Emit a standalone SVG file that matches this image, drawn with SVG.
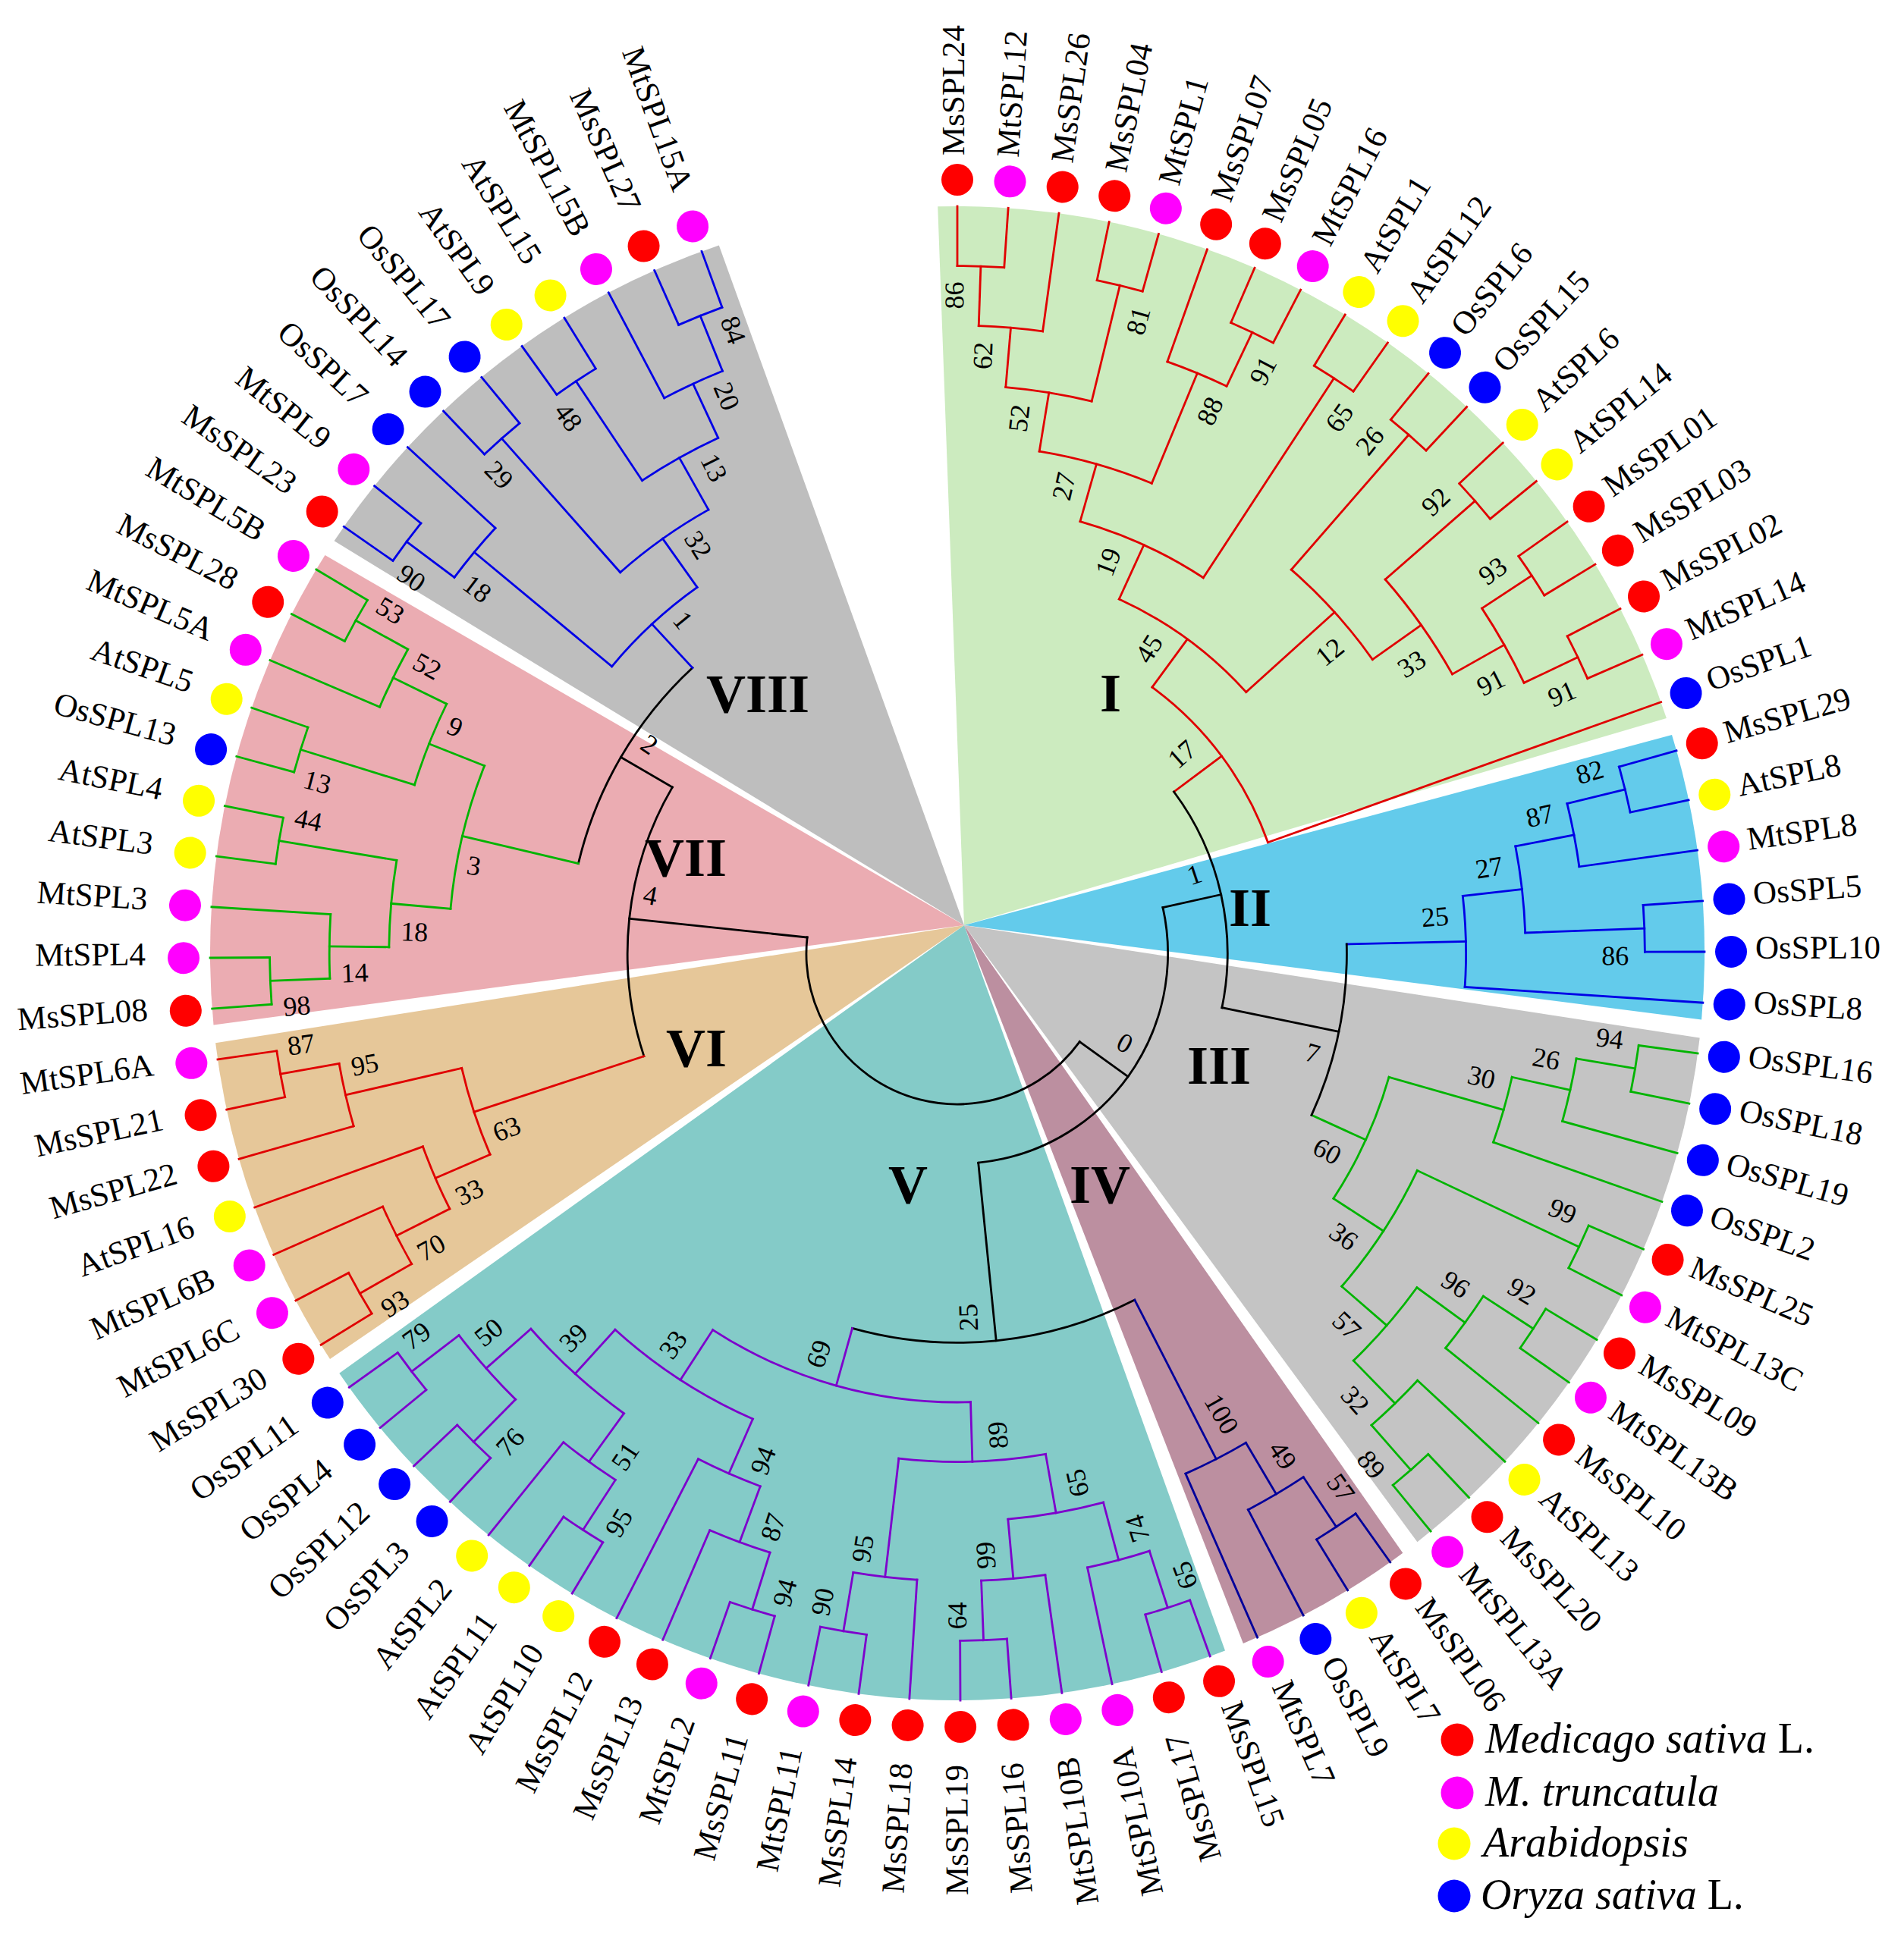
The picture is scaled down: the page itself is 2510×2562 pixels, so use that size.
<svg xmlns="http://www.w3.org/2000/svg" width="2510" height="2562" viewBox="0 0 2510 2562">
<style>
text{font-family:"Liberation Serif","Times New Roman",serif;fill:#000}
.lf text{font-size:43px}
.lf .e{text-anchor:end}
.ms{fill:#ff0000}.mt{fill:#ff00ff}.at{fill:#ffff00}.os{fill:#0000ff}
#connectors line,#connectors circle{fill:none;stroke-width:2.8;stroke-linecap:square}
.k line,.k circle{stroke:#000}
.r line,.r circle{stroke:#e00000}
.b line,.b circle{stroke:#0000e6}
.g line,.g circle{stroke:#00b400}
.n line,.n circle{stroke:#00009a}
.p line,.p circle{stroke:#7d00cc}
#bootstrap text{font-size:36px;text-anchor:middle}
.cl{font-size:72px;font-weight:bold;text-anchor:middle}
.lg{font-size:56px}
</style>
<rect width="2510" height="2562" fill="#fff"/>
<g id="wedges">
<path id="wedge-I" d="M1271,1220 L1236.2,272.3 A985,985 0 0 1 2196.9,946.9 Z" fill="#ccebbf"/>
<path id="wedge-II" d="M1271,1220 L2204.0,969.0 A985,985 0 0 1 2243.1,1344.6 Z" fill="#63cbeb"/>
<path id="wedge-III" d="M1271,1220 L2240.7,1368.5 A985,985 0 0 1 1868.4,2033.2 Z" fill="#c4c4c4"/>
<path id="wedge-IV" d="M1271,1220 L1849.3,2047.8 A985,985 0 0 1 1638.9,2167.0 Z" fill="#bc8fa0"/>
<path id="wedge-V" d="M1271,1220 L1615.0,2176.6 A985,985 0 0 1 447.3,1810.7 Z" fill="#84cbc8"/>
<path id="wedge-VI" d="M1271,1220 L435.0,1792.0 A985,985 0 0 1 284.1,1375.3 Z" fill="#e6c799"/>
<path id="wedge-VII" d="M1271,1220 L281.5,1351.4 A985,985 0 0 1 428.5,732.1 Z" fill="#ebacb2"/>
<path id="wedge-VIII" d="M1271,1220 L440.6,713.3 A985,985 0 0 1 947.8,323.4 Z" fill="#bebebe"/>
</g>
<g id="connectors" transform="translate(1262 1257)">
<g class="r">
<circle r="906.4" stroke-dasharray="61.82 9999" transform="rotate(-90)"/>
<line x1="906.4" x2="985" transform="rotate(-90)"/><line x1="906.4" x2="985" transform="rotate(-86.092)"/>
<circle r="827.8" stroke-dasharray="84.69 9999" transform="rotate(-88.046)"/>
<line x1="827.8" x2="906.4" transform="rotate(-88.046)"/><line x1="827.8" x2="985" transform="rotate(-82.184)"/>
<circle r="906.4" stroke-dasharray="61.82 9999" transform="rotate(-78.276)"/>
<line x1="906.4" x2="985" transform="rotate(-78.276)"/><line x1="906.4" x2="985" transform="rotate(-74.368)"/>
<circle r="749.2" stroke-dasharray="114.98 9999" transform="rotate(-85.115)"/>
<line x1="749.2" x2="827.8" transform="rotate(-85.115)"/><line x1="749.2" x2="906.4" transform="rotate(-76.322)"/>
<circle r="906.4" stroke-dasharray="61.82 9999" transform="rotate(-66.552)"/>
<line x1="906.4" x2="985" transform="rotate(-66.552)"/><line x1="906.4" x2="985" transform="rotate(-62.644)"/>
<circle r="827.8" stroke-dasharray="84.69 9999" transform="rotate(-70.46)"/>
<line x1="827.8" x2="985" transform="rotate(-70.46)"/><line x1="827.8" x2="906.4" transform="rotate(-64.598)"/>
<circle r="670.6" stroke-dasharray="154.37 9999" transform="rotate(-80.719)"/>
<line x1="670.6" x2="749.2" transform="rotate(-80.719)"/><line x1="670.6" x2="827.8" transform="rotate(-67.529)"/>
<circle r="906.4" stroke-dasharray="61.82 9999" transform="rotate(-58.736)"/>
<line x1="906.4" x2="985" transform="rotate(-58.736)"/><line x1="906.4" x2="985" transform="rotate(-54.828)"/>
<circle r="592" stroke-dasharray="179.18 9999" transform="rotate(-74.124)"/>
<line x1="592" x2="670.6" transform="rotate(-74.124)"/><line x1="592" x2="906.4" transform="rotate(-56.782)"/>
<circle r="906.4" stroke-dasharray="61.82 9999" transform="rotate(-50.92)"/>
<line x1="906.4" x2="985" transform="rotate(-50.92)"/><line x1="906.4" x2="985" transform="rotate(-47.012)"/>
<circle r="906.4" stroke-dasharray="61.82 9999" transform="rotate(-43.104)"/>
<line x1="906.4" x2="985" transform="rotate(-43.104)"/><line x1="906.4" x2="985" transform="rotate(-39.196)"/>
<circle r="906.4" stroke-dasharray="61.82 9999" transform="rotate(-35.288)"/>
<line x1="906.4" x2="985" transform="rotate(-35.288)"/><line x1="906.4" x2="985" transform="rotate(-31.38)"/>
<circle r="906.4" stroke-dasharray="61.82 9999" transform="rotate(-27.472)"/>
<line x1="906.4" x2="985" transform="rotate(-27.472)"/><line x1="906.4" x2="985" transform="rotate(-23.564)"/>
<circle r="827.8" stroke-dasharray="112.93 9999" transform="rotate(-33.334)"/>
<line x1="827.8" x2="906.4" transform="rotate(-33.334)"/><line x1="827.8" x2="906.4" transform="rotate(-25.518)"/>
<circle r="749.2" stroke-dasharray="153.30 9999" transform="rotate(-41.15)"/>
<line x1="749.2" x2="906.4" transform="rotate(-41.15)"/><line x1="749.2" x2="827.8" transform="rotate(-29.426)"/>
<circle r="670.6" stroke-dasharray="160.09 9999" transform="rotate(-48.966)"/>
<line x1="670.6" x2="906.4" transform="rotate(-48.966)"/><line x1="670.6" x2="749.2" transform="rotate(-35.288)"/>
<circle r="513.4" stroke-dasharray="209.01 9999" transform="rotate(-65.453)"/>
<line x1="513.4" x2="592" transform="rotate(-65.453)"/><line x1="513.4" x2="670.6" transform="rotate(-42.127)"/>
<circle r="434.8" stroke-dasharray="259.04 9999" transform="rotate(-53.79)"/>
<line x1="434.8" x2="513.4" transform="rotate(-53.79)"/><line x1="434.8" x2="985" transform="rotate(-19.656)"/>
<line x1="356.2" x2="434.8" transform="rotate(-36.723)"/>
</g>
<g class="b">
<circle r="906.4" stroke-dasharray="61.82 9999" transform="rotate(-15.748)"/>
<line x1="906.4" x2="985" transform="rotate(-15.748)"/><line x1="906.4" x2="985" transform="rotate(-11.84)"/>
<circle r="827.8" stroke-dasharray="84.69 9999" transform="rotate(-13.794)"/>
<line x1="827.8" x2="906.4" transform="rotate(-13.794)"/><line x1="827.8" x2="985" transform="rotate(-7.932)"/>
<circle r="906.4" stroke-dasharray="61.82 9999" transform="rotate(-4.024)"/>
<line x1="906.4" x2="985" transform="rotate(-4.024)"/><line x1="906.4" x2="985" transform="rotate(-0.116)"/>
<circle r="749.2" stroke-dasharray="114.98 9999" transform="rotate(-10.863)"/>
<line x1="749.2" x2="827.8" transform="rotate(-10.863)"/><line x1="749.2" x2="906.4" transform="rotate(-2.07)"/>
<circle r="670.6" stroke-dasharray="120.07 9999" transform="rotate(-6.467)"/>
<line x1="670.6" x2="749.2" transform="rotate(-6.467)"/><line x1="670.6" x2="985" transform="rotate(3.792)"/>
<line x1="513.4" x2="670.6" transform="rotate(-1.337)"/>
</g>
<g class="g">
<circle r="906.4" stroke-dasharray="61.82 9999" transform="rotate(7.7)"/>
<line x1="906.4" x2="985" transform="rotate(7.7)"/><line x1="906.4" x2="985" transform="rotate(11.608)"/>
<circle r="827.8" stroke-dasharray="84.69 9999" transform="rotate(9.654)"/>
<line x1="827.8" x2="906.4" transform="rotate(9.654)"/><line x1="827.8" x2="985" transform="rotate(15.516)"/>
<circle r="749.2" stroke-dasharray="89.43 9999" transform="rotate(12.585)"/>
<line x1="749.2" x2="827.8" transform="rotate(12.585)"/><line x1="749.2" x2="985" transform="rotate(19.424)"/>
<circle r="906.4" stroke-dasharray="61.82 9999" transform="rotate(23.332)"/>
<line x1="906.4" x2="985" transform="rotate(23.332)"/><line x1="906.4" x2="985" transform="rotate(27.24)"/>
<circle r="906.4" stroke-dasharray="61.82 9999" transform="rotate(31.148)"/>
<line x1="906.4" x2="985" transform="rotate(31.148)"/><line x1="906.4" x2="985" transform="rotate(35.056)"/>
<circle r="827.8" stroke-dasharray="84.69 9999" transform="rotate(33.102)"/>
<line x1="827.8" x2="906.4" transform="rotate(33.102)"/><line x1="827.8" x2="985" transform="rotate(38.964)"/>
<circle r="906.4" stroke-dasharray="61.82 9999" transform="rotate(46.78)"/>
<line x1="906.4" x2="985" transform="rotate(46.78)"/><line x1="906.4" x2="985" transform="rotate(50.688)"/>
<circle r="827.8" stroke-dasharray="84.69 9999" transform="rotate(42.872)"/>
<line x1="827.8" x2="985" transform="rotate(42.872)"/><line x1="827.8" x2="906.4" transform="rotate(48.734)"/>
<circle r="749.2" stroke-dasharray="127.75 9999" transform="rotate(36.033)"/>
<line x1="749.2" x2="827.8" transform="rotate(36.033)"/><line x1="749.2" x2="827.8" transform="rotate(45.803)"/>
<circle r="670.6" stroke-dasharray="182.96 9999" transform="rotate(25.286)"/>
<line x1="670.6" x2="906.4" transform="rotate(25.286)"/><line x1="670.6" x2="749.2" transform="rotate(40.918)"/>
<circle r="592" stroke-dasharray="176.66 9999" transform="rotate(16.005)"/>
<line x1="592" x2="749.2" transform="rotate(16.005)"/><line x1="592" x2="670.6" transform="rotate(33.102)"/>
<line x1="513.4" x2="592" transform="rotate(24.553)"/>
</g>
<g class="k">
<circle r="513.4" stroke-dasharray="231.99 9999" transform="rotate(-1.337)"/>
<line x1="356.2" x2="513.4" transform="rotate(11.608)"/>
<circle r="356.2" stroke-dasharray="300.48 9999" transform="rotate(-36.723)"/>
<line x1="277.6" x2="356.2" transform="rotate(-12.558)"/>
<circle r="277.6" stroke-dasharray="469.16 9999" transform="rotate(-12.558)"/>
<line x1="277.6" x2="513.4" transform="rotate(84.273)"/>
<circle r="513.4" stroke-dasharray="383.01 9999" transform="rotate(62.901)"/>
<line x1="199" x2="277.6" transform="rotate(35.857)"/>
<circle r="199" stroke-dasharray="521.58 9999" transform="rotate(35.857)"/>
<line x1="199" x2="434.8" transform="rotate(186.034)"/>
<circle r="434.8" stroke-dasharray="367.47 9999" transform="rotate(161.822)"/>
<line x1="434.8" x2="513.4" transform="rotate(210.244)"/>
<circle r="513.4" stroke-dasharray="303.13 9999" transform="rotate(193.33)"/>
</g>
<g class="n">
<line x1="513.4" x2="749.2" transform="rotate(62.901)"/>
<circle r="749.2" stroke-dasharray="89.43 9999" transform="rotate(59.481)"/>
<line x1="749.2" x2="827.8" transform="rotate(59.481)"/><line x1="749.2" x2="985" transform="rotate(66.32)"/>
<circle r="827.8" stroke-dasharray="84.69 9999" transform="rotate(56.55)"/>
<line x1="827.8" x2="906.4" transform="rotate(56.55)"/><line x1="827.8" x2="985" transform="rotate(62.412)"/>
<circle r="906.4" stroke-dasharray="61.82 9999" transform="rotate(54.596)"/>
<line x1="906.4" x2="985" transform="rotate(54.596)"/><line x1="906.4" x2="985" transform="rotate(58.504)"/>
</g>
<g class="p">
<line x1="513.4" x2="592" transform="rotate(105.644)"/>
<circle r="592" stroke-dasharray="358.36 9999" transform="rotate(88.303)"/>
<line x1="592" x2="670.6" transform="rotate(88.303)"/><line x1="592" x2="670.6" transform="rotate(122.986)"/>
<circle r="670.6" stroke-dasharray="194.40 9999" transform="rotate(79.998)"/>
<line x1="670.6" x2="749.2" transform="rotate(79.998)"/><line x1="670.6" x2="827.8" transform="rotate(96.607)"/>
<circle r="749.2" stroke-dasharray="127.75 9999" transform="rotate(75.113)"/>
<line x1="749.2" x2="827.8" transform="rotate(75.113)"/><line x1="749.2" x2="827.8" transform="rotate(84.883)"/>
<circle r="827.8" stroke-dasharray="84.69 9999" transform="rotate(72.182)"/>
<line x1="827.8" x2="906.4" transform="rotate(72.182)"/><line x1="827.8" x2="985" transform="rotate(78.044)"/>
<circle r="906.4" stroke-dasharray="61.82 9999" transform="rotate(70.228)"/>
<line x1="906.4" x2="985" transform="rotate(70.228)"/><line x1="906.4" x2="985" transform="rotate(74.136)"/>
<circle r="827.8" stroke-dasharray="84.69 9999" transform="rotate(81.952)"/>
<line x1="827.8" x2="985" transform="rotate(81.952)"/><line x1="827.8" x2="906.4" transform="rotate(87.814)"/>
<circle r="906.4" stroke-dasharray="61.82 9999" transform="rotate(85.86)"/>
<line x1="906.4" x2="985" transform="rotate(85.86)"/><line x1="906.4" x2="985" transform="rotate(89.768)"/>
<circle r="827.8" stroke-dasharray="84.69 9999" transform="rotate(93.676)"/>
<line x1="827.8" x2="985" transform="rotate(93.676)"/><line x1="827.8" x2="906.4" transform="rotate(99.538)"/>
<circle r="906.4" stroke-dasharray="61.82 9999" transform="rotate(97.584)"/>
<line x1="906.4" x2="985" transform="rotate(97.584)"/><line x1="906.4" x2="985" transform="rotate(101.492)"/>
<circle r="670.6" stroke-dasharray="217.27 9999" transform="rotate(113.705)"/>
<line x1="670.6" x2="749.2" transform="rotate(113.705)"/><line x1="670.6" x2="749.2" transform="rotate(132.268)"/>
<circle r="749.2" stroke-dasharray="89.43 9999" transform="rotate(110.285)"/>
<line x1="749.2" x2="827.8" transform="rotate(110.285)"/><line x1="749.2" x2="985" transform="rotate(117.124)"/>
<circle r="827.8" stroke-dasharray="84.69 9999" transform="rotate(107.354)"/>
<line x1="827.8" x2="906.4" transform="rotate(107.354)"/><line x1="827.8" x2="985" transform="rotate(113.216)"/>
<circle r="906.4" stroke-dasharray="61.82 9999" transform="rotate(105.4)"/>
<line x1="906.4" x2="985" transform="rotate(105.4)"/><line x1="906.4" x2="985" transform="rotate(109.308)"/>
<circle r="749.2" stroke-dasharray="166.08 9999" transform="rotate(125.917)"/>
<line x1="749.2" x2="827.8" transform="rotate(125.917)"/><line x1="749.2" x2="827.8" transform="rotate(138.618)"/>
<circle r="827.8" stroke-dasharray="84.69 9999" transform="rotate(122.986)"/>
<line x1="827.8" x2="906.4" transform="rotate(122.986)"/><line x1="827.8" x2="985" transform="rotate(128.848)"/>
<circle r="906.4" stroke-dasharray="61.82 9999" transform="rotate(121.032)"/>
<line x1="906.4" x2="985" transform="rotate(121.032)"/><line x1="906.4" x2="985" transform="rotate(124.94)"/>
<circle r="827.8" stroke-dasharray="112.93 9999" transform="rotate(134.71)"/>
<line x1="827.8" x2="906.4" transform="rotate(134.71)"/><line x1="827.8" x2="906.4" transform="rotate(142.526)"/>
<circle r="906.4" stroke-dasharray="61.82 9999" transform="rotate(132.756)"/>
<line x1="906.4" x2="985" transform="rotate(132.756)"/><line x1="906.4" x2="985" transform="rotate(136.664)"/>
<circle r="906.4" stroke-dasharray="61.82 9999" transform="rotate(140.572)"/>
<line x1="906.4" x2="985" transform="rotate(140.572)"/><line x1="906.4" x2="985" transform="rotate(144.48)"/>
</g>
<g class="r">
<line x1="434.8" x2="670.6" transform="rotate(161.822)"/>
<circle r="670.6" stroke-dasharray="120.07 9999" transform="rotate(156.693)"/>
<line x1="670.6" x2="749.2" transform="rotate(156.693)"/><line x1="670.6" x2="827.8" transform="rotate(166.951)"/>
<circle r="749.2" stroke-dasharray="89.43 9999" transform="rotate(153.273)"/>
<line x1="749.2" x2="827.8" transform="rotate(153.273)"/><line x1="749.2" x2="985" transform="rotate(160.112)"/>
<circle r="827.8" stroke-dasharray="84.69 9999" transform="rotate(150.342)"/>
<line x1="827.8" x2="906.4" transform="rotate(150.342)"/><line x1="827.8" x2="985" transform="rotate(156.204)"/>
<circle r="906.4" stroke-dasharray="61.82 9999" transform="rotate(148.388)"/>
<line x1="906.4" x2="985" transform="rotate(148.388)"/><line x1="906.4" x2="985" transform="rotate(152.296)"/>
<circle r="827.8" stroke-dasharray="84.69 9999" transform="rotate(164.02)"/>
<line x1="827.8" x2="985" transform="rotate(164.02)"/><line x1="827.8" x2="906.4" transform="rotate(169.882)"/>
<circle r="906.4" stroke-dasharray="61.82 9999" transform="rotate(167.928)"/>
<line x1="906.4" x2="985" transform="rotate(167.928)"/><line x1="906.4" x2="985" transform="rotate(171.836)"/>
</g>
<g class="g">
<line x1="513.4" x2="670.6" transform="rotate(193.33)"/>
<circle r="670.6" stroke-dasharray="194.40 9999" transform="rotate(185.026)"/>
<line x1="670.6" x2="749.2" transform="rotate(185.026)"/><line x1="670.6" x2="749.2" transform="rotate(201.635)"/>
<circle r="749.2" stroke-dasharray="114.98 9999" transform="rotate(180.629)"/>
<line x1="749.2" x2="827.8" transform="rotate(180.629)"/><line x1="749.2" x2="906.4" transform="rotate(189.422)"/>
<circle r="827.8" stroke-dasharray="84.69 9999" transform="rotate(177.698)"/>
<line x1="827.8" x2="906.4" transform="rotate(177.698)"/><line x1="827.8" x2="985" transform="rotate(183.56)"/>
<circle r="906.4" stroke-dasharray="61.82 9999" transform="rotate(175.744)"/>
<line x1="906.4" x2="985" transform="rotate(175.744)"/><line x1="906.4" x2="985" transform="rotate(179.652)"/>
<circle r="906.4" stroke-dasharray="61.82 9999" transform="rotate(187.468)"/>
<line x1="906.4" x2="985" transform="rotate(187.468)"/><line x1="906.4" x2="985" transform="rotate(191.376)"/>
<circle r="749.2" stroke-dasharray="114.98 9999" transform="rotate(197.238)"/>
<line x1="749.2" x2="906.4" transform="rotate(197.238)"/><line x1="749.2" x2="827.8" transform="rotate(206.031)"/>
<circle r="906.4" stroke-dasharray="61.82 9999" transform="rotate(195.284)"/>
<line x1="906.4" x2="985" transform="rotate(195.284)"/><line x1="906.4" x2="985" transform="rotate(199.192)"/>
<circle r="827.8" stroke-dasharray="84.69 9999" transform="rotate(203.1)"/>
<line x1="827.8" x2="985" transform="rotate(203.1)"/><line x1="827.8" x2="906.4" transform="rotate(208.962)"/>
<circle r="906.4" stroke-dasharray="61.82 9999" transform="rotate(207.008)"/>
<line x1="906.4" x2="985" transform="rotate(207.008)"/><line x1="906.4" x2="985" transform="rotate(210.916)"/>
</g>
<g class="b">
<line x1="513.4" x2="592" transform="rotate(227.159)"/>
<circle r="592" stroke-dasharray="153.94 9999" transform="rotate(219.709)"/>
<line x1="592" x2="827.8" transform="rotate(219.709)"/><line x1="592" x2="670.6" transform="rotate(234.608)"/>
<circle r="827.8" stroke-dasharray="84.69 9999" transform="rotate(216.778)"/>
<line x1="827.8" x2="906.4" transform="rotate(216.778)"/><line x1="827.8" x2="985" transform="rotate(222.64)"/>
<circle r="906.4" stroke-dasharray="61.82 9999" transform="rotate(214.824)"/>
<line x1="906.4" x2="985" transform="rotate(214.824)"/><line x1="906.4" x2="985" transform="rotate(218.732)"/>
<circle r="670.6" stroke-dasharray="142.94 9999" transform="rotate(228.502)"/>
<line x1="670.6" x2="906.4" transform="rotate(228.502)"/><line x1="670.6" x2="749.2" transform="rotate(240.715)"/>
<circle r="906.4" stroke-dasharray="61.82 9999" transform="rotate(226.548)"/>
<line x1="906.4" x2="985" transform="rotate(226.548)"/><line x1="906.4" x2="985" transform="rotate(230.456)"/>
<circle r="749.2" stroke-dasharray="114.98 9999" transform="rotate(236.318)"/>
<line x1="749.2" x2="906.4" transform="rotate(236.318)"/><line x1="749.2" x2="827.8" transform="rotate(245.111)"/>
<circle r="906.4" stroke-dasharray="61.82 9999" transform="rotate(234.364)"/>
<line x1="906.4" x2="985" transform="rotate(234.364)"/><line x1="906.4" x2="985" transform="rotate(238.272)"/>
<circle r="827.8" stroke-dasharray="84.69 9999" transform="rotate(242.18)"/>
<line x1="827.8" x2="985" transform="rotate(242.18)"/><line x1="827.8" x2="906.4" transform="rotate(248.042)"/>
<circle r="906.4" stroke-dasharray="61.82 9999" transform="rotate(246.088)"/>
<line x1="906.4" x2="985" transform="rotate(246.088)"/><line x1="906.4" x2="985" transform="rotate(249.996)"/>
</g>
</g>
<g id="bootstrap" transform="translate(1262 1257)">
<text dy="0.35em" transform="rotate(-90.29) translate(867.4 0)">86</text>
<text dy="0.35em" transform="rotate(-87.585) translate(788.8 0)">62</text>
<text dy="0.35em" transform="rotate(-74.076) translate(867.4 0)">81</text>
<text dy="0.35em" transform="rotate(-83.462) translate(710.2 0)">52</text>
<text dy="0.35em" transform="rotate(-62.352) translate(867.4 0)">91</text>
<text dy="0.35em" transform="rotate(-65.059) translate(788.8 0)">88</text>
<text dy="0.35em" transform="rotate(-77.208) translate(631.6 0)">27</text>
<text dy="0.35em" transform="rotate(-54.536) translate(867.4 0)">65</text>
<text dy="0.35em" transform="rotate(-68.976) translate(553 0)">19</text>
<text dy="0.35em" transform="rotate(-51.212) translate(867.4 0)">26</text>
<text dy="0.35em" transform="rotate(-43.396) translate(867.4 0)">92</text>
<text dy="0.35em" transform="rotate(-35.58) translate(867.4 0)">93</text>
<text dy="0.35em" transform="rotate(-23.272) translate(867.4 0)">91</text>
<text dy="0.35em" transform="rotate(-26.956) translate(788.8 0)">91</text>
<text dy="0.35em" transform="rotate(-32.545) translate(710.2 0)">33</text>
<text dy="0.35em" transform="rotate(-39.043) translate(631.6 0)">12</text>
<text dy="0.35em" transform="rotate(-57.896) translate(474.4 0)">45</text>
<text dy="0.35em" transform="rotate(-41.645) translate(395.8 0)">17</text>
<text dy="0.35em" transform="rotate(-16.04) translate(867.4 0)">82</text>
<text dy="0.35em" transform="rotate(-13.333) translate(788.8 0)">87</text>
<text dy="0.35em" transform="rotate(0.176) translate(867.4 0)">86</text>
<text dy="0.35em" transform="rotate(-9.21) translate(710.2 0)">27</text>
<text dy="0.35em" transform="rotate(-4.421) translate(631.6 0)">25</text>
<text dy="0.35em" transform="rotate(7.408) translate(867.4 0)">94</text>
<text dy="0.35em" transform="rotate(10.115) translate(788.8 0)">26</text>
<text dy="0.35em" transform="rotate(13.262) translate(710.2 0)">30</text>
<text dy="0.35em" transform="rotate(23.04) translate(867.4 0)">99</text>
<text dy="0.35em" transform="rotate(30.856) translate(867.4 0)">92</text>
<text dy="0.35em" transform="rotate(33.563) translate(788.8 0)">96</text>
<text dy="0.35em" transform="rotate(50.98) translate(867.4 0)">89</text>
<text dy="0.35em" transform="rotate(48.273) translate(788.8 0)">32</text>
<text dy="0.35em" transform="rotate(43.661) translate(710.2 0)">57</text>
<text dy="0.35em" transform="rotate(36.186) translate(631.6 0)">36</text>
<text dy="0.35em" transform="rotate(28.076) translate(553 0)">60</text>
<text dy="0.35em" transform="rotate(15.613) translate(486.4 0)">7</text>
<text dy="0.35em" transform="rotate(-18.475) translate(329.2 0)">1</text>
<text dy="0.35em" transform="rotate(28.084) translate(250.6 0)">0</text>
<text dy="0.35em" transform="rotate(88.328) translate(480.4 0) rotate(180)">25</text>
<text dy="0.35em" transform="rotate(190.764) translate(411.8 0) rotate(180)">4</text>
<text dy="0.35em" transform="rotate(214.216) translate(490.4 0) rotate(180)">2</text>
<text dy="0.35em" transform="rotate(54.304) translate(867.4 0)">57</text>
<text dy="0.35em" transform="rotate(57.011) translate(788.8 0)">49</text>
<text dy="0.35em" transform="rotate(60.119) translate(700.2 0)">100</text>
<text dy="0.35em" transform="rotate(69.952) translate(873.4 0) rotate(180)">65</text>
<text dy="0.35em" transform="rotate(72.662) translate(794.8 0) rotate(180)">74</text>
<text dy="0.35em" transform="rotate(90.044) translate(873.4 0) rotate(180)">64</text>
<text dy="0.35em" transform="rotate(87.334) translate(794.8 0) rotate(180)">99</text>
<text dy="0.35em" transform="rotate(77.278) translate(716.2 0) rotate(180)">65</text>
<text dy="0.35em" transform="rotate(101.768) translate(873.4 0) rotate(180)">90</text>
<text dy="0.35em" transform="rotate(99.058) translate(794.8 0) rotate(180)">95</text>
<text dy="0.35em" transform="rotate(85.248) translate(637.6 0) rotate(180)">89</text>
<text dy="0.35em" transform="rotate(105.124) translate(873.4 0) rotate(180)">94</text>
<text dy="0.35em" transform="rotate(107.834) translate(794.8 0) rotate(180)">87</text>
<text dy="0.35em" transform="rotate(110.985) translate(716.2 0) rotate(180)">94</text>
<text dy="0.35em" transform="rotate(120.756) translate(873.4 0) rotate(180)">95</text>
<text dy="0.35em" transform="rotate(123.466) translate(794.8 0) rotate(180)">51</text>
<text dy="0.35em" transform="rotate(132.48) translate(873.4 0) rotate(180)">76</text>
<text dy="0.35em" transform="rotate(144.756) translate(873.4 0) rotate(180)">79</text>
<text dy="0.35em" transform="rotate(141.069) translate(794.8 0) rotate(180)">50</text>
<text dy="0.35em" transform="rotate(134.988) translate(716.2 0) rotate(180)">39</text>
<text dy="0.35em" transform="rotate(126.041) translate(637.6 0) rotate(180)">33</text>
<text dy="0.35em" transform="rotate(109.129) translate(559 0) rotate(180)">69</text>
<text dy="0.35em" transform="rotate(148.112) translate(873.4 0) rotate(180)">93</text>
<text dy="0.35em" transform="rotate(150.822) translate(794.8 0) rotate(180)">70</text>
<text dy="0.35em" transform="rotate(153.973) translate(716.2 0) rotate(180)">33</text>
<text dy="0.35em" transform="rotate(172.112) translate(873.4 0) rotate(180)">87</text>
<text dy="0.35em" transform="rotate(169.402) translate(794.8 0) rotate(180)">95</text>
<text dy="0.35em" transform="rotate(158.767) translate(637.6 0) rotate(180)">63</text>
<text dy="0.35em" transform="rotate(175.468) translate(873.4 0) rotate(180)">98</text>
<text dy="0.35em" transform="rotate(178.178) translate(794.8 0) rotate(180)">14</text>
<text dy="0.35em" transform="rotate(191.652) translate(873.4 0) rotate(180)">44</text>
<text dy="0.35em" transform="rotate(182.306) translate(716.2 0) rotate(180)">18</text>
<text dy="0.35em" transform="rotate(195.008) translate(873.4 0) rotate(180)">13</text>
<text dy="0.35em" transform="rotate(211.192) translate(873.4 0) rotate(180)">53</text>
<text dy="0.35em" transform="rotate(208.482) translate(794.8 0) rotate(180)">52</text>
<text dy="0.35em" transform="rotate(204.317) translate(726.2 0) rotate(180)">9</text>
<text dy="0.35em" transform="rotate(190.322) translate(647.6 0) rotate(180)">3</text>
<text dy="0.35em" transform="rotate(214.548) translate(873.4 0) rotate(180)">90</text>
<text dy="0.35em" transform="rotate(217.258) translate(794.8 0) rotate(180)">18</text>
<text dy="0.35em" transform="rotate(226.272) translate(873.4 0) rotate(180)">29</text>
<text dy="0.35em" transform="rotate(234.088) translate(873.4 0) rotate(180)">48</text>
<text dy="0.35em" transform="rotate(250.272) translate(873.4 0) rotate(180)">84</text>
<text dy="0.35em" transform="rotate(247.562) translate(794.8 0) rotate(180)">20</text>
<text dy="0.35em" transform="rotate(243.435) translate(716.2 0) rotate(180)">13</text>
<text dy="0.35em" transform="rotate(237.663) translate(637.6 0) rotate(180)">32</text>
<text dy="0.35em" transform="rotate(230.583) translate(569 0) rotate(180)">1</text>
</g>
<g id="leaves" class="lf" transform="translate(1262 1257)">
<g id="leaf-MsSPL24" transform="rotate(-90)"><circle class="ms" cx="1020" r="21"/><text x="1052" y="9">MsSPL24</text></g>
<g id="leaf-MtSPL12" transform="rotate(-86.092)"><circle class="mt" cx="1020" r="21"/><text x="1052" y="9">MtSPL12</text></g>
<g id="leaf-MsSPL26" transform="rotate(-82.184)"><circle class="ms" cx="1020" r="21"/><text x="1052" y="9">MsSPL26</text></g>
<g id="leaf-MsSPL04" transform="rotate(-78.276)"><circle class="ms" cx="1020" r="21"/><text x="1052" y="9">MsSPL04</text></g>
<g id="leaf-MtSPL1" transform="rotate(-74.368)"><circle class="mt" cx="1020" r="21"/><text x="1052" y="9">MtSPL1</text></g>
<g id="leaf-MsSPL07" transform="rotate(-70.46)"><circle class="ms" cx="1020" r="21"/><text x="1052" y="9">MsSPL07</text></g>
<g id="leaf-MsSPL05" transform="rotate(-66.552)"><circle class="ms" cx="1020" r="21"/><text x="1052" y="9">MsSPL05</text></g>
<g id="leaf-MtSPL16" transform="rotate(-62.644)"><circle class="mt" cx="1020" r="21"/><text x="1052" y="9">MtSPL16</text></g>
<g id="leaf-AtSPL1" transform="rotate(-58.736)"><circle class="at" cx="1020" r="21"/><text x="1052" y="9">AtSPL1</text></g>
<g id="leaf-AtSPL12" transform="rotate(-54.828)"><circle class="at" cx="1020" r="21"/><text x="1052" y="9">AtSPL12</text></g>
<g id="leaf-OsSPL6" transform="rotate(-50.92)"><circle class="os" cx="1020" r="21"/><text x="1052" y="9">OsSPL6</text></g>
<g id="leaf-OsSPL15" transform="rotate(-47.012)"><circle class="os" cx="1020" r="21"/><text x="1052" y="9">OsSPL15</text></g>
<g id="leaf-AtSPL6" transform="rotate(-43.104)"><circle class="at" cx="1020" r="21"/><text x="1052" y="9">AtSPL6</text></g>
<g id="leaf-AtSPL14" transform="rotate(-39.196)"><circle class="at" cx="1020" r="21"/><text x="1052" y="9">AtSPL14</text></g>
<g id="leaf-MsSPL01" transform="rotate(-35.288)"><circle class="ms" cx="1020" r="21"/><text x="1052" y="9">MsSPL01</text></g>
<g id="leaf-MsSPL03" transform="rotate(-31.38)"><circle class="ms" cx="1020" r="21"/><text x="1052" y="9">MsSPL03</text></g>
<g id="leaf-MsSPL02" transform="rotate(-27.472)"><circle class="ms" cx="1020" r="21"/><text x="1052" y="9">MsSPL02</text></g>
<g id="leaf-MtSPL14" transform="rotate(-23.564)"><circle class="mt" cx="1020" r="21"/><text x="1052" y="9">MtSPL14</text></g>
<g id="leaf-OsSPL1" transform="rotate(-19.656)"><circle class="os" cx="1020" r="21"/><text x="1052" y="9">OsSPL1</text></g>
<g id="leaf-MsSPL29" transform="rotate(-15.748)"><circle class="ms" cx="1020" r="21"/><text x="1052" y="9">MsSPL29</text></g>
<g id="leaf-AtSPL8" transform="rotate(-11.84)"><circle class="at" cx="1020" r="21"/><text x="1052" y="9">AtSPL8</text></g>
<g id="leaf-MtSPL8" transform="rotate(-7.932)"><circle class="mt" cx="1020" r="21"/><text x="1052" y="9">MtSPL8</text></g>
<g id="leaf-OsSPL5" transform="rotate(-4.024)"><circle class="os" cx="1020" r="21"/><text x="1052" y="9">OsSPL5</text></g>
<g id="leaf-OsSPL10" transform="rotate(-0.116)"><circle class="os" cx="1020" r="21"/><text x="1052" y="9">OsSPL10</text></g>
<g id="leaf-OsSPL8" transform="rotate(3.792)"><circle class="os" cx="1020" r="21"/><text x="1052" y="9">OsSPL8</text></g>
<g id="leaf-OsSPL16" transform="rotate(7.7)"><circle class="os" cx="1020" r="21"/><text x="1052" y="9">OsSPL16</text></g>
<g id="leaf-OsSPL18" transform="rotate(11.608)"><circle class="os" cx="1020" r="21"/><text x="1052" y="9">OsSPL18</text></g>
<g id="leaf-OsSPL19" transform="rotate(15.516)"><circle class="os" cx="1020" r="21"/><text x="1052" y="9">OsSPL19</text></g>
<g id="leaf-OsSPL2" transform="rotate(19.424)"><circle class="os" cx="1020" r="21"/><text x="1052" y="9">OsSPL2</text></g>
<g id="leaf-MsSPL25" transform="rotate(23.332)"><circle class="ms" cx="1020" r="21"/><text x="1052" y="9">MsSPL25</text></g>
<g id="leaf-MtSPL13C" transform="rotate(27.24)"><circle class="mt" cx="1020" r="21"/><text x="1052" y="9">MtSPL13C</text></g>
<g id="leaf-MsSPL09" transform="rotate(31.148)"><circle class="ms" cx="1020" r="21"/><text x="1052" y="9">MsSPL09</text></g>
<g id="leaf-MtSPL13B" transform="rotate(35.056)"><circle class="mt" cx="1020" r="21"/><text x="1052" y="9">MtSPL13B</text></g>
<g id="leaf-MsSPL10" transform="rotate(38.964)"><circle class="ms" cx="1020" r="21"/><text x="1052" y="9">MsSPL10</text></g>
<g id="leaf-AtSPL13" transform="rotate(42.872)"><circle class="at" cx="1020" r="21"/><text x="1052" y="9">AtSPL13</text></g>
<g id="leaf-MsSPL20" transform="rotate(46.78)"><circle class="ms" cx="1020" r="21"/><text x="1052" y="9">MsSPL20</text></g>
<g id="leaf-MtSPL13A" transform="rotate(50.688)"><circle class="mt" cx="1020" r="21"/><text x="1052" y="9">MtSPL13A</text></g>
<g id="leaf-MsSPL06" transform="rotate(54.596)"><circle class="ms" cx="1020" r="21"/><text x="1052" y="9">MsSPL06</text></g>
<g id="leaf-AtSPL7" transform="rotate(58.504)"><circle class="at" cx="1020" r="21"/><text x="1052" y="9">AtSPL7</text></g>
<g id="leaf-OsSPL9" transform="rotate(62.412)"><circle class="os" cx="1020" r="21"/><text x="1052" y="9">OsSPL9</text></g>
<g id="leaf-MtSPL7" transform="rotate(66.32)"><circle class="mt" cx="1020" r="21"/><text x="1052" y="9">MtSPL7</text></g>
<g id="leaf-MsSPL15" transform="rotate(70.228)"><circle class="ms" cx="1020" r="21"/><text x="1052" y="9">MsSPL15</text></g>
<g id="leaf-MsSPL17" transform="rotate(-105.864)"><circle class="ms" cx="-1020" r="21"/><text class="e" x="-1070" y="9">MsSPL17</text></g>
<g id="leaf-MtSPL10A" transform="rotate(-101.956)"><circle class="mt" cx="-1020" r="21"/><text class="e" x="-1070" y="9">MtSPL10A</text></g>
<g id="leaf-MtSPL10B" transform="rotate(-98.048)"><circle class="mt" cx="-1020" r="21"/><text class="e" x="-1070" y="9">MtSPL10B</text></g>
<g id="leaf-MsSPL16" transform="rotate(-94.14)"><circle class="ms" cx="-1020" r="21"/><text class="e" x="-1070" y="9">MsSPL16</text></g>
<g id="leaf-MsSPL19" transform="rotate(-90.232)"><circle class="ms" cx="-1020" r="21"/><text class="e" x="-1070" y="9">MsSPL19</text></g>
<g id="leaf-MsSPL18" transform="rotate(-86.324)"><circle class="ms" cx="-1020" r="21"/><text class="e" x="-1070" y="9">MsSPL18</text></g>
<g id="leaf-MsSPL14" transform="rotate(-82.416)"><circle class="ms" cx="-1020" r="21"/><text class="e" x="-1070" y="9">MsSPL14</text></g>
<g id="leaf-MtSPL11" transform="rotate(-78.508)"><circle class="mt" cx="-1020" r="21"/><text class="e" x="-1070" y="9">MtSPL11</text></g>
<g id="leaf-MsSPL11" transform="rotate(-74.6)"><circle class="ms" cx="-1020" r="21"/><text class="e" x="-1070" y="9">MsSPL11</text></g>
<g id="leaf-MtSPL2" transform="rotate(-70.692)"><circle class="mt" cx="-1020" r="21"/><text class="e" x="-1070" y="9">MtSPL2</text></g>
<g id="leaf-MsSPL13" transform="rotate(-66.784)"><circle class="ms" cx="-1020" r="21"/><text class="e" x="-1070" y="9">MsSPL13</text></g>
<g id="leaf-MsSPL12" transform="rotate(-62.876)"><circle class="ms" cx="-1020" r="21"/><text class="e" x="-1070" y="9">MsSPL12</text></g>
<g id="leaf-AtSPL10" transform="rotate(-58.968)"><circle class="at" cx="-1020" r="21"/><text class="e" x="-1070" y="9">AtSPL10</text></g>
<g id="leaf-AtSPL11" transform="rotate(-55.06)"><circle class="at" cx="-1020" r="21"/><text class="e" x="-1070" y="9">AtSPL11</text></g>
<g id="leaf-AtSPL2" transform="rotate(-51.152)"><circle class="at" cx="-1020" r="21"/><text class="e" x="-1070" y="9">AtSPL2</text></g>
<g id="leaf-OsSPL3" transform="rotate(-47.244)"><circle class="os" cx="-1020" r="21"/><text class="e" x="-1070" y="9">OsSPL3</text></g>
<g id="leaf-OsSPL12" transform="rotate(-43.336)"><circle class="os" cx="-1020" r="21"/><text class="e" x="-1070" y="9">OsSPL12</text></g>
<g id="leaf-OsSPL4" transform="rotate(-39.428)"><circle class="os" cx="-1020" r="21"/><text class="e" x="-1070" y="9">OsSPL4</text></g>
<g id="leaf-OsSPL11" transform="rotate(-35.52)"><circle class="os" cx="-1020" r="21"/><text class="e" x="-1070" y="9">OsSPL11</text></g>
<g id="leaf-MsSPL30" transform="rotate(-31.612)"><circle class="ms" cx="-1020" r="21"/><text class="e" x="-1070" y="9">MsSPL30</text></g>
<g id="leaf-MtSPL6C" transform="rotate(-27.704)"><circle class="mt" cx="-1020" r="21"/><text class="e" x="-1070" y="9">MtSPL6C</text></g>
<g id="leaf-MtSPL6B" transform="rotate(-23.796)"><circle class="mt" cx="-1020" r="21"/><text class="e" x="-1070" y="9">MtSPL6B</text></g>
<g id="leaf-AtSPL16" transform="rotate(-19.888)"><circle class="at" cx="-1020" r="21"/><text class="e" x="-1070" y="9">AtSPL16</text></g>
<g id="leaf-MsSPL22" transform="rotate(-15.98)"><circle class="ms" cx="-1020" r="21"/><text class="e" x="-1070" y="9">MsSPL22</text></g>
<g id="leaf-MsSPL21" transform="rotate(-12.072)"><circle class="ms" cx="-1020" r="21"/><text class="e" x="-1070" y="9">MsSPL21</text></g>
<g id="leaf-MtSPL6A" transform="rotate(-8.164)"><circle class="mt" cx="-1020" r="21"/><text class="e" x="-1070" y="9">MtSPL6A</text></g>
<g id="leaf-MsSPL08" transform="rotate(-4.256)"><circle class="ms" cx="-1020" r="21"/><text class="e" x="-1070" y="9">MsSPL08</text></g>
<g id="leaf-MtSPL4" transform="rotate(-0.348)"><circle class="mt" cx="-1020" r="21"/><text class="e" x="-1070" y="9">MtSPL4</text></g>
<g id="leaf-MtSPL3" transform="rotate(3.56)"><circle class="mt" cx="-1020" r="21"/><text class="e" x="-1070" y="9">MtSPL3</text></g>
<g id="leaf-AtSPL3" transform="rotate(7.468)"><circle class="at" cx="-1020" r="21"/><text class="e" x="-1070" y="9">AtSPL3</text></g>
<g id="leaf-AtSPL4" transform="rotate(11.376)"><circle class="at" cx="-1020" r="21"/><text class="e" x="-1070" y="9">AtSPL4</text></g>
<g id="leaf-OsSPL13" transform="rotate(15.284)"><circle class="os" cx="-1020" r="21"/><text class="e" x="-1070" y="9">OsSPL13</text></g>
<g id="leaf-AtSPL5" transform="rotate(19.192)"><circle class="at" cx="-1020" r="21"/><text class="e" x="-1070" y="9">AtSPL5</text></g>
<g id="leaf-MtSPL5A" transform="rotate(23.1)"><circle class="mt" cx="-1020" r="21"/><text class="e" x="-1070" y="9">MtSPL5A</text></g>
<g id="leaf-MsSPL28" transform="rotate(27.008)"><circle class="ms" cx="-1020" r="21"/><text class="e" x="-1070" y="9">MsSPL28</text></g>
<g id="leaf-MtSPL5B" transform="rotate(30.916)"><circle class="mt" cx="-1020" r="21"/><text class="e" x="-1070" y="9">MtSPL5B</text></g>
<g id="leaf-MsSPL23" transform="rotate(34.824)"><circle class="ms" cx="-1020" r="21"/><text class="e" x="-1070" y="9">MsSPL23</text></g>
<g id="leaf-MtSPL9" transform="rotate(38.732)"><circle class="mt" cx="-1020" r="21"/><text class="e" x="-1070" y="9">MtSPL9</text></g>
<g id="leaf-OsSPL7" transform="rotate(42.64)"><circle class="os" cx="-1020" r="21"/><text class="e" x="-1070" y="9">OsSPL7</text></g>
<g id="leaf-OsSPL14" transform="rotate(46.548)"><circle class="os" cx="-1020" r="21"/><text class="e" x="-1070" y="9">OsSPL14</text></g>
<g id="leaf-OsSPL17" transform="rotate(50.456)"><circle class="os" cx="-1020" r="21"/><text class="e" x="-1070" y="9">OsSPL17</text></g>
<g id="leaf-AtSPL9" transform="rotate(54.364)"><circle class="at" cx="-1020" r="21"/><text class="e" x="-1070" y="9">AtSPL9</text></g>
<g id="leaf-AtSPL15" transform="rotate(58.272)"><circle class="at" cx="-1020" r="21"/><text class="e" x="-1070" y="9">AtSPL15</text></g>
<g id="leaf-MtSPL15B" transform="rotate(62.18)"><circle class="mt" cx="-1020" r="21"/><text class="e" x="-1070" y="9">MtSPL15B</text></g>
<g id="leaf-MsSPL27" transform="rotate(66.088)"><circle class="ms" cx="-1020" r="21"/><text class="e" x="-1070" y="9">MsSPL27</text></g>
<g id="leaf-MtSPL15A" transform="rotate(69.996)"><circle class="mt" cx="-1020" r="21"/><text class="e" x="-1070" y="9">MtSPL15A</text></g>
</g>
<g id="clade-labels">
<text class="cl" x="1464" y="938">I</text>
<text class="cl" x="1648" y="1221">II</text>
<text class="cl" x="1607" y="1429">III</text>
<text class="cl" x="1450" y="1586">IV</text>
<text class="cl" x="1197" y="1586">V</text>
<text class="cl" x="918" y="1406">VI</text>
<text class="cl" x="904" y="1155">VII</text>
<text class="cl" x="999" y="939">VIII</text>
</g>
<g id="legend">
<g id="legend-ms"><circle class="ms" cx="1921" cy="2294" r="21.5"/><text class="lg" x="1958" y="2311"><tspan font-style="italic">Medicago sativa</tspan> L.</text></g>
<g id="legend-mt"><circle class="mt" cx="1921" cy="2364" r="21.5"/><text class="lg" x="1958" y="2381" font-style="italic">M. truncatula</text></g>
<g id="legend-at"><circle class="at" cx="1917" cy="2431" r="21.5"/><text class="lg" x="1955" y="2448" font-style="italic">Arabidopsis</text></g>
<g id="legend-os"><circle class="os" cx="1917" cy="2500" r="21.5"/><text class="lg" x="1952" y="2517"><tspan font-style="italic">Oryza sativa</tspan> L.</text></g>
</g>
</svg>
